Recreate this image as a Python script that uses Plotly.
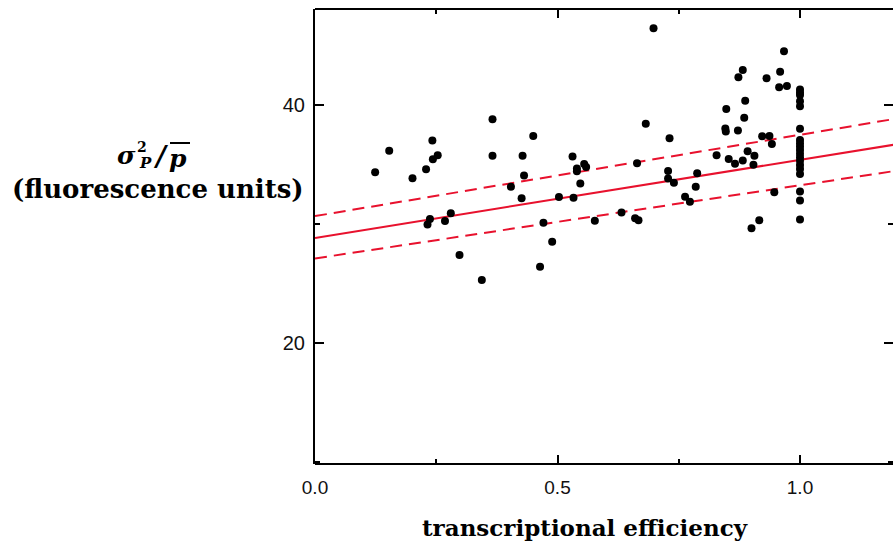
import plotly.graph_objects as go

# ---------------- data ----------------
eff = [0.124, 0.153, 0.201, 0.229, 0.242, 0.243, 0.253, 0.366, 0.366, 0.428,
       0.431, 0.404, 0.426, 0.237, 0.232, 0.268, 0.280, 0.298, 0.344, 0.698,
       0.682, 0.731, 0.450, 0.531, 0.540, 0.540, 0.555, 0.559, 0.547, 0.664,
       0.503, 0.533, 0.471, 0.489, 0.464, 0.577, 0.632, 0.660, 0.667, 0.728,
       0.728, 0.740, 0.967, 0.882, 0.873, 0.959, 0.931, 0.957, 0.973, 0.887,
       0.848, 0.885, 0.846, 0.847, 0.872, 0.922, 0.937, 0.942, 0.828, 0.853,
       0.866, 0.882, 0.892, 0.906, 0.904, 0.788, 0.785, 0.763, 0.773, 0.947,
       0.916, 0.900,
       1.0, 1.0, 1.0, 1.0, 1.0, 1.0, 1.0, 1.0, 1.0, 1.0,
       1.0, 1.0, 1.0, 1.0, 1.0, 1.0, 1.0, 1.0, 1.0]
noise = [34.34, 36.16, 33.84, 34.60, 37.02, 35.44, 35.78, 38.80, 35.74, 35.74,
         34.08, 33.13, 32.16, 30.42, 29.96, 30.25, 30.90, 27.39, 25.29, 46.45,
         38.43, 37.21, 37.39, 35.66, 34.66, 34.44, 35.03, 34.79, 33.39, 35.11,
         32.27, 32.21, 30.10, 28.50, 26.41, 30.28, 30.97, 30.48, 30.31, 34.45,
         33.81, 33.47, 44.51, 42.94, 42.33, 42.80, 42.24, 41.49, 41.60, 40.36,
         39.66, 38.93, 38.03, 37.77, 37.86, 37.38, 37.39, 36.72, 35.77, 35.45,
         35.06, 35.34, 36.12, 35.73, 34.97, 34.26, 33.13, 32.29, 31.87, 32.67,
         30.32, 29.64,
         41.30, 41.05, 40.84, 40.32, 39.89, 38.01, 37.06, 36.78, 36.50, 36.22,
         35.91, 35.61, 35.31, 34.96, 34.61, 34.20, 32.73, 31.97, 30.37]

fit_x = [0.0, 1.2]
fit_mid = [28.83, 36.70]
fit_hi = [30.66, 38.86]
fit_lo = [27.10, 34.48]

x_ticks = [0.0, 0.5, 1.0]
x_tick_text = ["0.0", "0.5", "1.0"]
y_ticks = [20, 40]
y_tick_text = ["20", "40"]

x_title = "transcriptional efficiency"
y_title_2 = "(fluorescence units)"

# ---------------- layout geometry ----------------
W, H = 893, 541
L, R, T, B = 315, 0, 10, 78
PW, PH = W - L - R, H - T - B
X_PER_UNIT = 485.0
Y_PER_UNIT = 11.9
x_range = [0.0, PW / X_PER_UNIT]
y_top = 47.98
y_range = [y_top - PH / Y_PER_UNIT, y_top]


def px(x):
    return (x - L) / PW


def py(y):
    return (H - B - y) / PH


RED = "#e8112d"
SERIF = "DejaVu Serif"

fig = go.Figure()
fig.add_trace(go.Scatter(x=fit_x, y=fit_hi, mode="lines",
                         line=dict(color=RED, width=2, dash="12px,7px"),
                         hoverinfo="skip"))
fig.add_trace(go.Scatter(x=fit_x, y=fit_lo, mode="lines",
                         line=dict(color=RED, width=2, dash="12px,7px"),
                         hoverinfo="skip"))
fig.add_trace(go.Scatter(x=fit_x, y=fit_mid, mode="lines",
                         line=dict(color=RED, width=2), hoverinfo="skip"))
fig.add_trace(go.Scatter(x=eff, y=noise, mode="markers",
                         marker=dict(color="black", size=8, line=dict(width=0))))

xtickfont = dict(family="Liberation Sans, Arial, sans-serif", size=19, color="#111")
ytickfont = dict(family="Liberation Sans, Arial, sans-serif", size=20, color="#111")

fig.update_xaxes(range=x_range, showgrid=False, zeroline=False,
                 showline=True, linecolor="black", linewidth=2, mirror="ticks",
                 ticks="inside", ticklen=8, tickwidth=1.5, tickcolor="black",
                 tickvals=x_ticks, ticktext=x_tick_text, tickfont=xtickfont,
                 ticklabelstandoff=6,
                 minor=dict(ticks="inside", dtick=0.25, tick0=0, ticklen=4,
                            tickwidth=1.5, tickcolor="black", showgrid=False))
fig.update_yaxes(range=y_range, showgrid=False, zeroline=False,
                 showline=False, mirror="ticks",
                 ticks="inside", ticklen=9, tickwidth=1.5, tickcolor="black",
                 tickvals=y_ticks, ticktext=y_tick_text, tickfont=ytickfont,
                 ticklabelstandoff=9,
                 minor=dict(ticks="inside", dtick=10, tick0=0, ticklen=5,
                            tickwidth=1.5, tickcolor="black", showgrid=False))

shapes = [
    # left axis line
    dict(type="line", xref="paper", yref="paper", x0=px(L - 1), x1=px(L - 1),
         y0=py(H - B + 1), y1=py(T - 1), line=dict(color="black", width=2)),
    # overline over p
    dict(type="line", xref="paper", yref="paper", x0=px(170), x1=px(190),
         y0=py(143), y1=py(143), line=dict(color="black", width=2)),
]

ann_common = dict(xref="paper", yref="paper", showarrow=False,
                  xanchor="center", yanchor="middle")
annotations = [
    dict(text="<b>" + x_title + "</b>", x=px(585), y=py(527),
         font=dict(family=SERIF, size=23, color="black"), **ann_common),
    dict(text="<b>" + y_title_2 + "</b>", x=px(157.5), y=py(189),
         font=dict(family=SERIF, size=26, color="black"), **ann_common),
    dict(text="<b><i>σ</i></b>", x=px(126), y=py(155),
         font=dict(family=SERIF, size=25, color="black"), **ann_common),
    dict(text="<b>2</b>", x=px(142), y=py(147),
         font=dict(family=SERIF, size=14, color="black"), **ann_common),
    dict(text="<b><i>P</i></b>", x=px(145), y=py(163),
         font=dict(family=SERIF, size=15, color="black"), **ann_common),
    dict(text="<b><i>/</i></b>", x=px(161), y=py(156),
         font=dict(family=SERIF, size=27, color="black"), **ann_common),
    dict(text="<b><i>p</i></b>", x=px(178), y=py(158),
         font=dict(family=SERIF, size=25, color="black"), **ann_common),
]

fig.update_layout(width=W, height=H, margin=dict(l=L, r=R, t=T, b=B, pad=0),
                  plot_bgcolor="white", paper_bgcolor="white",
                  showlegend=False, shapes=shapes, annotations=annotations)

fig.write_html("out.html")
